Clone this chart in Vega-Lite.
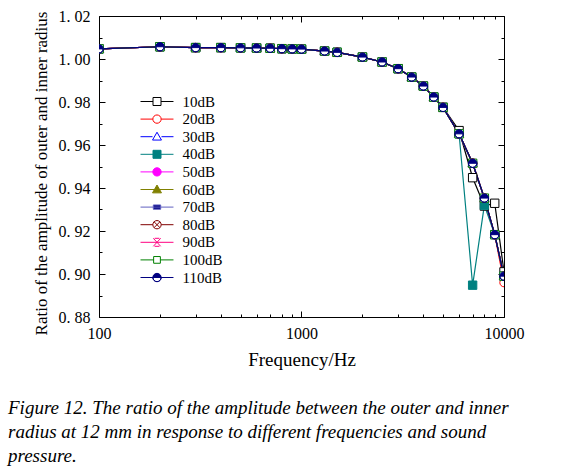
{
  "$schema": "https://vega.github.io/schema/vega-lite/v6.json",
  "width": 405,
  "height": 301,
  "autosize": {"type": "none"},
  "padding": {"left": 99, "top": 16, "right": 63, "bottom": 153},
  "background": "white",
  "config": {"view": {"stroke": null}, "font": "Liberation Serif"},
  "title": {
    "text": ["Figure 12. The ratio of the amplitude between the outer and inner", "radius at 12 mm in response to different frequencies and sound", "pressure."],
    "orient": "bottom", "anchor": "start", "frame": "group", "dx": -91, "offset": 30,
    "font": "Liberation Serif", "fontSize": 19, "fontStyle": "italic", "fontWeight": "normal", "lineHeight": 24, "color": "black"
  },
  "data": {"values": [
{"s":"10dB","f":100,"r":1.0047},{"s":"10dB","f":200,"r":1.0057},{"s":"10dB","f":300,"r":1.0053},{"s":"10dB","f":400,"r":1.0053},{"s":"10dB","f":500,"r":1.0052},{"s":"10dB","f":600,"r":1.0051},{"s":"10dB","f":700,"r":1.005},{"s":"10dB","f":800,"r":1.0048},{"s":"10dB","f":900,"r":1.0047},{"s":"10dB","f":1000,"r":1.0046},{"s":"10dB","f":1300,"r":1.0037},{"s":"10dB","f":1500,"r":1.0031},{"s":"10dB","f":2000,"r":1.0009},{"s":"10dB","f":2500,"r":0.9986},{"s":"10dB","f":3000,"r":0.9955},{"s":"10dB","f":3500,"r":0.9916},{"s":"10dB","f":4000,"r":0.9874},{"s":"10dB","f":4500,"r":0.9823},{"s":"10dB","f":5000,"r":0.9775},{"s":"10dB","f":6000,"r":0.9667},{"s":"10dB","f":7000,"r":0.9448},{"s":"10dB","f":8000,"r":0.9316},{"s":"10dB","f":9000,"r":0.9329},{"s":"10dB","f":10000,"r":0.901},
{"s":"20dB","f":100,"r":1.0047},{"s":"20dB","f":200,"r":1.0057},{"s":"20dB","f":300,"r":1.0053},{"s":"20dB","f":400,"r":1.0053},{"s":"20dB","f":500,"r":1.0052},{"s":"20dB","f":600,"r":1.0051},{"s":"20dB","f":700,"r":1.005},{"s":"20dB","f":800,"r":1.0048},{"s":"20dB","f":900,"r":1.0047},{"s":"20dB","f":1000,"r":1.0046},{"s":"20dB","f":1300,"r":1.0037},{"s":"20dB","f":1500,"r":1.0031},{"s":"20dB","f":2000,"r":1.0009},{"s":"20dB","f":2500,"r":0.9986},{"s":"20dB","f":3000,"r":0.9955},{"s":"20dB","f":3500,"r":0.9916},{"s":"20dB","f":4000,"r":0.9874},{"s":"20dB","f":4500,"r":0.9823},{"s":"20dB","f":5000,"r":0.9775},{"s":"20dB","f":6000,"r":0.9652},{"s":"20dB","f":7000,"r":0.9515},{"s":"20dB","f":8000,"r":0.9353},{"s":"20dB","f":9000,"r":0.9183},{"s":"20dB","f":10000,"r":0.896},
{"s":"30dB","f":100,"r":1.0047},{"s":"30dB","f":200,"r":1.0057},{"s":"30dB","f":300,"r":1.0053},{"s":"30dB","f":400,"r":1.0053},{"s":"30dB","f":500,"r":1.0052},{"s":"30dB","f":600,"r":1.0051},{"s":"30dB","f":700,"r":1.005},{"s":"30dB","f":800,"r":1.0048},{"s":"30dB","f":900,"r":1.0047},{"s":"30dB","f":1000,"r":1.0046},{"s":"30dB","f":1300,"r":1.0037},{"s":"30dB","f":1500,"r":1.0031},{"s":"30dB","f":2000,"r":1.0009},{"s":"30dB","f":2500,"r":0.9986},{"s":"30dB","f":3000,"r":0.9955},{"s":"30dB","f":3500,"r":0.9916},{"s":"30dB","f":4000,"r":0.9874},{"s":"30dB","f":4500,"r":0.9823},{"s":"30dB","f":5000,"r":0.9775},{"s":"30dB","f":6000,"r":0.9652},{"s":"30dB","f":7000,"r":0.9515},{"s":"30dB","f":8000,"r":0.9353},{"s":"30dB","f":9000,"r":0.9183},{"s":"30dB","f":10000,"r":0.899},
{"s":"40dB","f":100,"r":1.0047},{"s":"40dB","f":200,"r":1.0057},{"s":"40dB","f":300,"r":1.0053},{"s":"40dB","f":400,"r":1.0053},{"s":"40dB","f":500,"r":1.0052},{"s":"40dB","f":600,"r":1.0051},{"s":"40dB","f":700,"r":1.005},{"s":"40dB","f":800,"r":1.0048},{"s":"40dB","f":900,"r":1.0047},{"s":"40dB","f":1000,"r":1.0046},{"s":"40dB","f":1300,"r":1.0037},{"s":"40dB","f":1500,"r":1.0031},{"s":"40dB","f":2000,"r":1.0009},{"s":"40dB","f":2500,"r":0.9986},{"s":"40dB","f":3000,"r":0.9955},{"s":"40dB","f":3500,"r":0.9916},{"s":"40dB","f":4000,"r":0.9874},{"s":"40dB","f":4500,"r":0.9823},{"s":"40dB","f":5000,"r":0.9775},{"s":"40dB","f":6000,"r":0.9652},{"s":"40dB","f":7000,"r":0.8948},{"s":"40dB","f":8000,"r":0.932},{"s":"40dB","f":9000,"r":0.9183},{"s":"40dB","f":10000,"r":0.899},
{"s":"50dB","f":100,"r":1.0047},{"s":"50dB","f":200,"r":1.0057},{"s":"50dB","f":300,"r":1.0053},{"s":"50dB","f":400,"r":1.0053},{"s":"50dB","f":500,"r":1.0052},{"s":"50dB","f":600,"r":1.0051},{"s":"50dB","f":700,"r":1.005},{"s":"50dB","f":800,"r":1.0048},{"s":"50dB","f":900,"r":1.0047},{"s":"50dB","f":1000,"r":1.0046},{"s":"50dB","f":1300,"r":1.0037},{"s":"50dB","f":1500,"r":1.0031},{"s":"50dB","f":2000,"r":1.0009},{"s":"50dB","f":2500,"r":0.9986},{"s":"50dB","f":3000,"r":0.9955},{"s":"50dB","f":3500,"r":0.9916},{"s":"50dB","f":4000,"r":0.9874},{"s":"50dB","f":4500,"r":0.9823},{"s":"50dB","f":5000,"r":0.9775},{"s":"50dB","f":6000,"r":0.9652},{"s":"50dB","f":7000,"r":0.9515},{"s":"50dB","f":8000,"r":0.9353},{"s":"50dB","f":9000,"r":0.9183},{"s":"50dB","f":10000,"r":0.899},
{"s":"60dB","f":100,"r":1.0047},{"s":"60dB","f":200,"r":1.0057},{"s":"60dB","f":300,"r":1.0053},{"s":"60dB","f":400,"r":1.0053},{"s":"60dB","f":500,"r":1.0052},{"s":"60dB","f":600,"r":1.0051},{"s":"60dB","f":700,"r":1.005},{"s":"60dB","f":800,"r":1.0048},{"s":"60dB","f":900,"r":1.0047},{"s":"60dB","f":1000,"r":1.0046},{"s":"60dB","f":1300,"r":1.0037},{"s":"60dB","f":1500,"r":1.0031},{"s":"60dB","f":2000,"r":1.0009},{"s":"60dB","f":2500,"r":0.9986},{"s":"60dB","f":3000,"r":0.9955},{"s":"60dB","f":3500,"r":0.9916},{"s":"60dB","f":4000,"r":0.9874},{"s":"60dB","f":4500,"r":0.9823},{"s":"60dB","f":5000,"r":0.9775},{"s":"60dB","f":6000,"r":0.9652},{"s":"60dB","f":7000,"r":0.9515},{"s":"60dB","f":8000,"r":0.9353},{"s":"60dB","f":9000,"r":0.9183},{"s":"60dB","f":10000,"r":0.899},
{"s":"70dB","f":100,"r":1.0047},{"s":"70dB","f":200,"r":1.0057},{"s":"70dB","f":300,"r":1.0053},{"s":"70dB","f":400,"r":1.0053},{"s":"70dB","f":500,"r":1.0052},{"s":"70dB","f":600,"r":1.0051},{"s":"70dB","f":700,"r":1.005},{"s":"70dB","f":800,"r":1.0048},{"s":"70dB","f":900,"r":1.0047},{"s":"70dB","f":1000,"r":1.0046},{"s":"70dB","f":1300,"r":1.0037},{"s":"70dB","f":1500,"r":1.0031},{"s":"70dB","f":2000,"r":1.0009},{"s":"70dB","f":2500,"r":0.9986},{"s":"70dB","f":3000,"r":0.9955},{"s":"70dB","f":3500,"r":0.9916},{"s":"70dB","f":4000,"r":0.9874},{"s":"70dB","f":4500,"r":0.9823},{"s":"70dB","f":5000,"r":0.9775},{"s":"70dB","f":6000,"r":0.9652},{"s":"70dB","f":7000,"r":0.9515},{"s":"70dB","f":8000,"r":0.9353},{"s":"70dB","f":9000,"r":0.9183},{"s":"70dB","f":10000,"r":0.899},
{"s":"80dB","f":100,"r":1.0047},{"s":"80dB","f":200,"r":1.0057},{"s":"80dB","f":300,"r":1.0053},{"s":"80dB","f":400,"r":1.0053},{"s":"80dB","f":500,"r":1.0052},{"s":"80dB","f":600,"r":1.0051},{"s":"80dB","f":700,"r":1.005},{"s":"80dB","f":800,"r":1.0048},{"s":"80dB","f":900,"r":1.0047},{"s":"80dB","f":1000,"r":1.0046},{"s":"80dB","f":1300,"r":1.0037},{"s":"80dB","f":1500,"r":1.0031},{"s":"80dB","f":2000,"r":1.0009},{"s":"80dB","f":2500,"r":0.9986},{"s":"80dB","f":3000,"r":0.9955},{"s":"80dB","f":3500,"r":0.9916},{"s":"80dB","f":4000,"r":0.9874},{"s":"80dB","f":4500,"r":0.9823},{"s":"80dB","f":5000,"r":0.9775},{"s":"80dB","f":6000,"r":0.9652},{"s":"80dB","f":7000,"r":0.9515},{"s":"80dB","f":8000,"r":0.9353},{"s":"80dB","f":9000,"r":0.9183},{"s":"80dB","f":10000,"r":0.899},
{"s":"90dB","f":100,"r":1.0047},{"s":"90dB","f":200,"r":1.0057},{"s":"90dB","f":300,"r":1.0053},{"s":"90dB","f":400,"r":1.0053},{"s":"90dB","f":500,"r":1.0052},{"s":"90dB","f":600,"r":1.0051},{"s":"90dB","f":700,"r":1.005},{"s":"90dB","f":800,"r":1.0048},{"s":"90dB","f":900,"r":1.0047},{"s":"90dB","f":1000,"r":1.0046},{"s":"90dB","f":1300,"r":1.0037},{"s":"90dB","f":1500,"r":1.0031},{"s":"90dB","f":2000,"r":1.0009},{"s":"90dB","f":2500,"r":0.9986},{"s":"90dB","f":3000,"r":0.9955},{"s":"90dB","f":3500,"r":0.9916},{"s":"90dB","f":4000,"r":0.9874},{"s":"90dB","f":4500,"r":0.9823},{"s":"90dB","f":5000,"r":0.9775},{"s":"90dB","f":6000,"r":0.9652},{"s":"90dB","f":7000,"r":0.9515},{"s":"90dB","f":8000,"r":0.9353},{"s":"90dB","f":9000,"r":0.9183},{"s":"90dB","f":10000,"r":0.899},
{"s":"100dB","f":100,"r":1.0047},{"s":"100dB","f":200,"r":1.0057},{"s":"100dB","f":300,"r":1.0053},{"s":"100dB","f":400,"r":1.0053},{"s":"100dB","f":500,"r":1.0052},{"s":"100dB","f":600,"r":1.0051},{"s":"100dB","f":700,"r":1.005},{"s":"100dB","f":800,"r":1.0048},{"s":"100dB","f":900,"r":1.0047},{"s":"100dB","f":1000,"r":1.0046},{"s":"100dB","f":1300,"r":1.0037},{"s":"100dB","f":1500,"r":1.0031},{"s":"100dB","f":2000,"r":1.0009},{"s":"100dB","f":2500,"r":0.9986},{"s":"100dB","f":3000,"r":0.9955},{"s":"100dB","f":3500,"r":0.9916},{"s":"100dB","f":4000,"r":0.9874},{"s":"100dB","f":4500,"r":0.9823},{"s":"100dB","f":5000,"r":0.9775},{"s":"100dB","f":6000,"r":0.9652},{"s":"100dB","f":7000,"r":0.9515},{"s":"100dB","f":8000,"r":0.9353},{"s":"100dB","f":9000,"r":0.9183},{"s":"100dB","f":10000,"r":0.899},
{"s":"110dB","f":100,"r":1.0047},{"s":"110dB","f":200,"r":1.0057},{"s":"110dB","f":300,"r":1.0053},{"s":"110dB","f":400,"r":1.0053},{"s":"110dB","f":500,"r":1.0052},{"s":"110dB","f":600,"r":1.0051},{"s":"110dB","f":700,"r":1.005},{"s":"110dB","f":800,"r":1.0048},{"s":"110dB","f":900,"r":1.0047},{"s":"110dB","f":1000,"r":1.0046},{"s":"110dB","f":1300,"r":1.0037},{"s":"110dB","f":1500,"r":1.0031},{"s":"110dB","f":2000,"r":1.0009},{"s":"110dB","f":2500,"r":0.9986},{"s":"110dB","f":3000,"r":0.9955},{"s":"110dB","f":3500,"r":0.9916},{"s":"110dB","f":4000,"r":0.9874},{"s":"110dB","f":4500,"r":0.9823},{"s":"110dB","f":5000,"r":0.9775},{"s":"110dB","f":6000,"r":0.9652},{"s":"110dB","f":7000,"r":0.9515},{"s":"110dB","f":8000,"r":0.9353},{"s":"110dB","f":9000,"r":0.9183},{"s":"110dB","f":10000,"r":0.899}
  ]},
  "resolve": {
    "scale": {"stroke": "independent", "fill": "independent", "shape": "independent"},
    "axis": {"x": "independent", "y": "independent"}
  },
  "layer": [
    {
      "mark": {"type": "line", "strokeWidth": 1.2, "clip": true},
      "encoding": {
        "x": {"field": "f", "type": "quantitative",
          "scale": {"type": "log", "domain": [100, 10000], "nice": false},
          "axis": {"orient": "bottom", "grid": false,
            "values": [100,200,300,400,500,600,700,800,900,1000,2000,3000,4000,5000,6000,7000,8000,9000,10000],
            "tickSize": {"condition": {"test": "datum.value==100||datum.value==1000||datum.value==10000", "value": -6}, "value": -3},
            "labelExpr": "datum.value==100||datum.value==1000||datum.value==10000 ? format(datum.value,'d') : ''",
            "labelFont": "Liberation Serif", "labelFontSize": 16, "labelColor": "black", "labelPadding": 14,
            "labelFlush": false, "labelOverlap": false, "labelBound": false,
            "tickColor": "black", "domainColor": "black", "domainWidth": 1, "tickWidth": 1,
            "title": "Frequency/Hz", "titleFont": "Liberation Serif", "titleFontSize": 19, "titleFontWeight": "normal", "titleColor": "black", "titlePadding": 6}},
        "y": {"field": "r", "type": "quantitative",
          "scale": {"domain": [0.88, 1.02], "nice": false, "zero": false},
          "axis": {"orient": "left", "grid": false,
            "values": [0.88,0.89,0.9,0.91,0.92,0.93,0.94,0.95,0.96,0.97,0.98,0.99,1,1.01,1.02],
            "tickSize": {"condition": {"test": "round(datum.value*100)%2==0", "value": -6}, "value": -3},
            "labelExpr": "round(datum.value*100)%2==0 ? replace(format(datum.value,'.2f'),'.','. ') : ''",
            "labelFont": "Liberation Serif", "labelFontSize": 16, "labelColor": "black", "labelPadding": 15,
            "labelFlush": false, "labelOverlap": false, "labelBound": false,
            "tickColor": "black", "domainColor": "black", "domainWidth": 1, "tickWidth": 1,
            "title": "Ratio of the amplitude of outer and inner radius", "titleFont": "Liberation Serif", "titleFontSize": 17, "titleFontWeight": "normal", "titleColor": "black", "titlePadding": 8, "titleY": 157}},
        "stroke": {"field": "s", "type": "nominal",
          "scale": {"domain": ["10dB","20dB","30dB","40dB","50dB","60dB","70dB","80dB","90dB","100dB","110dB"],
            "range": ["#000000","#ff0000","#0000ff","#008080","#ff00ff","#808000","#6060c0","#800000","#ff0080","#008000","#000080"]},
          "legend": null}
      }
    },
    {
      "mark": {"type": "point", "filled": true, "size": 70, "strokeWidth": 1, "opacity": 1, "clip": true},
      "encoding": {
        "x": {"field": "f", "type": "quantitative",
          "axis": {"orient": "top", "grid": false, "labels": false, "title": null,
            "values": [100,200,300,400,500,600,700,800,900,1000,2000,3000,4000,5000,6000,7000,8000,9000,10000],
            "tickSize": {"condition": {"test": "datum.value==100||datum.value==1000||datum.value==10000", "value": -6}, "value": -3},
            "tickColor": "black", "domainColor": "black", "domainWidth": 1, "tickWidth": 1}},
        "y": {"field": "r", "type": "quantitative",
          "axis": {"orient": "right", "grid": false, "labels": false, "title": null,
            "values": [0.88,0.89,0.9,0.91,0.92,0.93,0.94,0.95,0.96,0.97,0.98,0.99,1,1.01,1.02],
            "tickSize": {"condition": {"test": "round(datum.value*100)%2==0", "value": -6}, "value": -3},
            "tickColor": "black", "domainColor": "black", "domainWidth": 1, "tickWidth": 1}},
        "stroke": {"field": "s", "type": "nominal",
          "scale": {"domain": ["10dB","20dB","30dB","40dB","50dB","60dB","70dB","80dB","90dB","100dB","110dB"],
            "range": ["#000000","#ff0000","#0000ff","#008080","#ff00ff","#808000","#000080","#800000","#ff0080","#008000","#000080"]},
          "legend": null},
        "fill": {"field": "s", "type": "nominal",
          "scale": {"domain": ["10dB","20dB","30dB","40dB","50dB","60dB","70dB","80dB","90dB","100dB","110dB"],
            "range": ["#ffffff","#ffffff","#ffffff","#008080","#ff00ff","#808000","#000080","#ffffff","#ff0080","#ffffff","#000080"]},
          "legend": null},
        "shape": {"field": "s", "type": "nominal",
          "scale": {"domain": ["10dB","20dB","30dB","40dB","50dB","60dB","70dB","80dB","90dB","100dB","110dB"],
            "range": [
              "M-1,-1H1V1H-1Z",
              "M-1,0A1,1,0,1,1,1,0A1,1,0,1,1,-1,0Z",
              "M0,-1.1L1.1,0.8H-1.1Z",
              "M-1,-1H1V1H-1Z",
              "M-1,0A1,1,0,1,1,1,0A1,1,0,1,1,-1,0Z",
              "M0,-1.1L1.1,0.8H-1.1Z",
              "M-1,-0.6H1V0.6H-1Z",
              "M-1,0A1,1,0,1,1,1,0A1,1,0,1,1,-1,0ZM-0.7,-0.7L0.7,0.7M-0.7,0.7L0.7,-0.7",
              "M-1,-1L1,1M-1,1L1,-1M-0.6,-1H0.6M-0.6,1H0.6",
              "M-1,-1H1V1H-1Z",
              "M-1,0A1,1,0,1,1,1,0A1,1,0,1,1,-1,0ZM1,0L-1,0A1,1,0,0,0,1,0Z"
            ]},
          "legend": null}
      }
    },
    {
      "transform": [{"filter": "false"}],
      "mark": {"type": "point", "filled": true, "strokeWidth": 1, "opacity": 1},
      "encoding": {
        "x": {"field": "f", "type": "quantitative", "axis": null},
        "y": {"field": "r", "type": "quantitative", "axis": null},
        "stroke": {"field": "s", "type": "nominal",
          "scale": {"domain": ["10dB","20dB","30dB","40dB","50dB","60dB","70dB","80dB","90dB","100dB","110dB"],
            "range": ["#000000","#ff0000","#0000ff","#008080","#ff00ff","#808000","#6060c0","#800000","#ff0080","#008000","#000080"]},
          "legend": {"title": null, "orient": "none", "legendX": 41, "legendY": 77, "padding": 0, "symbolSize": 256, "symbolOffset": 8.5, "symbolStrokeWidth": 1, "symbolOpacity": 1, "labelFont": "Liberation Serif", "labelFontSize": 15, "labelColor": "black", "labelOffset": 17, "rowPadding": 0.6, "labelLimit": 100}},
        "fill": {"field": "s", "type": "nominal",
          "scale": {"domain": ["10dB","20dB","30dB","40dB","50dB","60dB","70dB","80dB","90dB","100dB","110dB"],
            "range": ["#ffffff","#ffffff","#ffffff","#008080","#ff00ff","#808000","#000080","#ffffff","#ff0080","#ffffff","#000080"]},
          "legend": {"title": null, "orient": "none", "legendX": 41, "legendY": 77, "padding": 0, "symbolSize": 256, "symbolOffset": 8.5, "symbolStrokeWidth": 1, "symbolOpacity": 1, "labelFont": "Liberation Serif", "labelFontSize": 15, "labelColor": "black", "labelOffset": 17, "rowPadding": 0.6, "labelLimit": 100}},
        "shape": {"field": "s", "type": "nominal",
          "scale": {"domain": ["10dB","20dB","30dB","40dB","50dB","60dB","70dB","80dB","90dB","100dB","110dB"],
            "range": [
              "M-2.06,0H-0.5M0.5,0H2.06M-0.5,-0.5H0.5V0.5H-0.5Z",
              "M-2.06,0H-0.52M0.52,0H2.06M-0.52,0A0.52,0.52,0,1,1,0.52,0A0.52,0.52,0,1,1,-0.52,0Z",
              "M-2.06,0H-0.56M0.56,0H2.06M0,-0.56L0.56,0.42H-0.56Z",
              "M-2.06,0H2.06M-0.5,-0.5H0.5V0.5H-0.5Z",
              "M-2.06,0H2.06M-0.52,0A0.52,0.52,0,1,1,0.52,0A0.52,0.52,0,1,1,-0.52,0Z",
              "M-2.06,0H2.06M0,-0.56L0.56,0.42H-0.56Z",
              "M-2.06,0H2.06M-0.46,-0.27H0.46V0.27H-0.46Z",
              "M-2.06,0H-0.52M0.52,0H2.06M-0.52,0A0.52,0.52,0,1,1,0.52,0A0.52,0.52,0,1,1,-0.52,0ZM-0.36,-0.36L0.36,0.36M-0.36,0.36L0.36,-0.36",
              "M-2.06,0H2.06M-0.46,-0.5L0.46,0.5M-0.46,0.5L0.46,-0.5M-0.3,-0.5H0.3M-0.3,0.5H0.3",
              "M-2.06,0H-0.42M0.42,0H2.06M-0.42,-0.42H0.42V0.42H-0.42Z",
              "M-2.06,0H2.06M-0.52,0A0.52,0.52,0,1,1,0.52,0A0.52,0.52,0,1,1,-0.52,0ZM0.52,0L-0.52,0A0.52,0.52,0,0,0,0.52,0Z"
            ]},
          "legend": {"title": null, "orient": "none", "legendX": 41, "legendY": 77, "padding": 0, "symbolSize": 256, "symbolOffset": 8.5, "symbolStrokeWidth": 1, "symbolOpacity": 1, "labelFont": "Liberation Serif", "labelFontSize": 15, "labelColor": "black", "labelOffset": 17, "rowPadding": 0.6, "labelLimit": 100}}
      }
    }
  ]
}
